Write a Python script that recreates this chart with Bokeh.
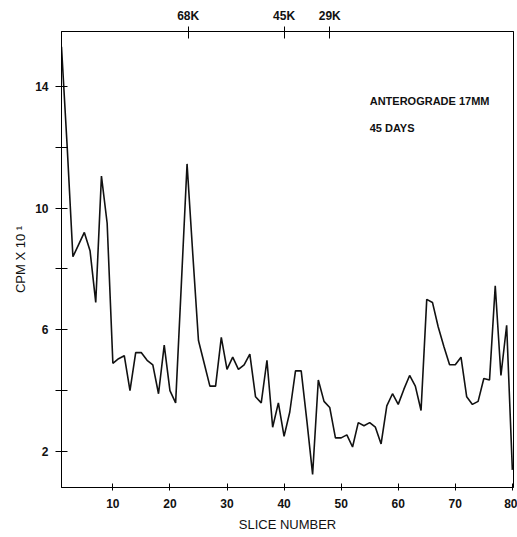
from bokeh.plotting import figure
from bokeh.models import LinearAxis, FixedTicker, Range1d, Label, Title
from bokeh.embed import file_html
from bokeh.resources import INLINE

# ---- data ----
slices = list(range(1, 81))
cpm = [15.3, 12.0, 8.4, 8.8, 9.2, 8.6, 6.9, 11.05, 9.5, 4.9,
       5.05, 5.15, 4.0, 5.25, 5.25, 5.0, 4.85, 3.9, 5.5, 4.0,
       3.6, 7.5, 11.45, 8.5, 5.65, 4.9, 4.15, 4.15, 5.75, 4.7,
       5.1, 4.7, 4.85, 5.2, 3.8, 3.6, 5.0, 2.8, 3.6, 2.5,
       3.3, 4.65, 4.65, 3.0, 1.25, 4.35, 3.65, 3.45, 2.45, 2.45,
       2.55, 2.15, 2.95, 2.85, 2.95, 2.8, 2.25, 3.5, 3.9, 3.55,
       4.05, 4.5, 4.15, 3.35, 7.0, 6.9, 6.1, 5.45, 4.85, 4.85,
       5.1, 3.8, 3.55, 3.65, 4.4, 4.35, 7.45, 4.5, 6.15, 1.4]

x_ticks = [10, 20, 30, 40, 50, 60, 70, 80]
y_ticks = [2, 4, 6, 8, 10, 12, 14]
y_labeled = [2, 6, 10, 14]
marker_positions = [23.2, 40.0, 48.0]
marker_labels = ["68K", "45K", "29K"]
annotation = ["ANTEROGRADE 17MM", "45 DAYS"]
y_title = "CPM X 10 \u00b9"

FONT = "Liberation Sans"

p = figure(width=517, height=537,
           x_range=Range1d(1.0, 80.2), y_range=Range1d(0.82, 15.8),
           output_backend="svg", toolbar_location=None,
           min_border_left=61, min_border_right=4,
           min_border_top=31, min_border_bottom=50)
p.background_fill_color = "white"
p.border_fill_color = "white"
p.outline_line_color = "black"
p.outline_line_width = 1
p.xgrid.visible = False
p.ygrid.visible = False

p.line(slices, cpm, line_color="#111111", line_width=1.6)

# bottom axis
xa = p.xaxis[0]
xa.ticker = FixedTicker(ticks=x_ticks)
xa.minor_tick_line_color = None
xa.major_tick_in = 4
xa.major_tick_out = 3
xa.axis_line_color = "black"
xa.major_tick_line_color = "black"
xa.major_label_text_font = FONT
xa.major_label_text_font_size = "12px"
xa.major_label_text_font_style = "bold"
xa.major_label_text_color = "#111111"
xa.major_label_standoff = 8
xa.axis_label = "SLICE NUMBER"
xa.axis_label_text_font = FONT
xa.axis_label_text_font_size = "13px"
xa.axis_label_text_font_style = "normal"
xa.axis_label_text_color = "#111111"
xa.axis_label_standoff = 6

# left axis
ya = p.yaxis[0]
ya.ticker = FixedTicker(ticks=y_ticks)
ya.major_label_overrides = {t: (str(t) if t in y_labeled else "") for t in y_ticks}
ya.minor_tick_line_color = None
ya.major_tick_in = 6
ya.major_tick_out = 6
ya.axis_line_color = "black"
ya.major_tick_line_color = "black"
ya.major_label_text_font = FONT
ya.major_label_text_font_size = "12px"
ya.major_label_text_font_style = "bold"
ya.major_label_text_color = "#111111"
ya.major_label_standoff = 7

# y-axis title as a left-side title (shifted slightly down)
p.add_layout(Title(text=y_title, align="center", offset=-12,
                   text_font=FONT, text_font_size="13px",
                   text_font_style="normal", text_color="#111111"), "left")

# top axis with molecular weight markers
ta = LinearAxis(ticker=FixedTicker(ticks=marker_positions),
                major_label_overrides={t: l for t, l in zip(marker_positions, marker_labels)})
ta.minor_tick_line_color = None
ta.major_tick_in = 7
ta.major_tick_out = 5
ta.axis_line_color = "black"
ta.major_tick_line_color = "black"
ta.major_label_text_font = FONT
ta.major_label_text_font_size = "12px"
ta.major_label_text_font_style = "bold"
ta.major_label_text_color = "#111111"
ta.major_label_standoff = 4
p.add_layout(ta, "above")

# annotation
for i, txt in enumerate(annotation):
    p.add_layout(Label(x=55.0, y=13.53 - i * 0.885, text=txt,
                       text_font=FONT, text_font_size="11px",
                       text_font_style="bold",
                       text_color="#111111", text_baseline="alphabetic"))

open("out.html", "w").write(file_html(p, INLINE))
